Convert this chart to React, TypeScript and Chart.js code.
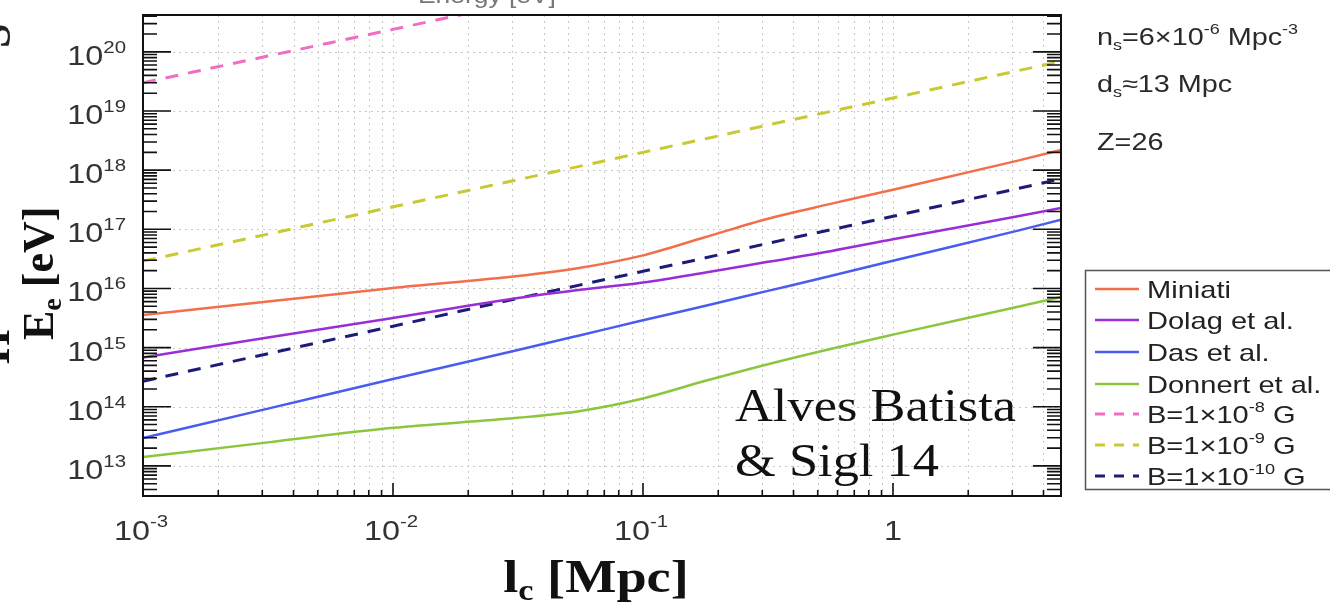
import React, { useEffect, useRef } from "react";
import { Chart, registerables } from "chart.js";
Chart.register(...registerables);

// coherence length l_c [Mpc]
const lcMpc = [0.001, 0.00316, 0.01, 0.0316, 0.0562, 0.1, 0.178, 0.316, 0.562, 1, 3.16, 4.7];

// E_e [eV] for each magnetic field model
const miniati = [3.55e15, 6.0e15, 1.02e16, 1.62e16, 2.24e16, 3.63e16, 7.4e16, 1.51e17, 2.69e17, 4.68e17, 1.45e18, 2.2e18];
const dolag = [6.8e14, 1.48e15, 3.16e15, 6.9e15, 9.5e15, 1.26e16, 1.86e16, 2.82e16, 4.27e16, 6.8e16, 1.66e17, 2.3e17];
const das = [2.95e13, 9.3e13, 2.95e14, 9.1e14, 1.62e15, 2.9e15, 5.1e15, 9.1e15, 1.62e16, 2.95e16, 9.5e16, 1.45e17];
const donnert = [1.41e13, 2.5e13, 4.4e13, 6.5e13, 8.5e13, 1.38e14, 2.75e14, 5.25e14, 9.5e14, 1.66e15, 4.9e15, 7.2e15];
const b1e8 = [3.0e19, 8.5e19, 2.4e20, 6.8e20, 1.14e21, 1.9e21, 3.2e21, 5.4e21, 9.1e21, 1.5e22, 4.3e22, 6.0e22];
const b1e9 = [2.9e16, 8.3e16, 2.4e17, 6.9e17, 1.17e18, 2.0e18, 3.4e18, 5.8e18, 9.8e18, 1.66e19, 4.8e19, 6.9e19];
const b1e10 = [2.7e14, 7.9e14, 2.3e15, 6.8e15, 1.15e16, 1.95e16, 3.3e16, 5.8e16, 9.8e16, 1.66e17, 4.9e17, 7.1e17];

const seriesLabels = ["Miniati", "Dolag et al.", "Das et al.", "Donnert et al.", "B=1×10-8 G", "B=1×10-9 G", "B=1×10-10 G"];
const legendExp = ["", "", "", "", "-8", "-9", "-10"];

// axis ticks
const xMajorTicks = [1e-3, 1e-2, 1e-1, 1];
const xTickBase = ["10", "10", "10", "1"];
const xTickExp = ["-3", "-2", "-1", ""];
const yMajorTicks = [1e13, 1e14, 1e15, 1e16, 1e17, 1e18, 1e19, 1e20];
const yTickExp = ["13", "14", "15", "16", "17", "18", "19", "20"];

const X_MIN = 1e-3;
const X_MAX = 4.7;
const Y_MIN = 3.1e12;
const Y_MAX = 4.2e20;

const SANS = '"Liberation Sans", Arial, Helvetica, sans-serif';
const SERIF = '"Liberation Serif", "Times New Roman", serif';

type Seg = { t: string; font: string; dy: number };

function richWidth(ctx: CanvasRenderingContext2D, segs: Seg[], sx: number) {
  let w = 0;
  for (const s of segs) {
    ctx.font = s.font;
    w += ctx.measureText(s.t).width * sx;
  }
  return w;
}

function drawRich(
  ctx: CanvasRenderingContext2D,
  segs: Seg[],
  x: number,
  y: number,
  color: string,
  sx = 1.15,
  align: "left" | "center" | "right" = "left"
) {
  const w = richWidth(ctx, segs, sx);
  let cx = align === "left" ? x : align === "center" ? x - w / 2 : x - w;
  ctx.save();
  ctx.fillStyle = color;
  ctx.textAlign = "left";
  ctx.textBaseline = "alphabetic";
  for (const s of segs) {
    ctx.font = s.font;
    ctx.save();
    ctx.translate(cx, y + s.dy);
    ctx.scale(sx, 1);
    ctx.fillText(s.t, 0, 0);
    ctx.restore();
    cx += ctx.measureText(s.t).width * sx;
  }
  ctx.restore();
  return w;
}

function minorTicks(min: number, max: number) {
  const out: number[] = [];
  const lo = Math.floor(Math.log10(min));
  const hi = Math.ceil(Math.log10(max));
  for (let e = lo; e <= hi; e++) {
    for (let m = 2; m <= 9; m++) {
      const v = m * Math.pow(10, e);
      if (v > min && v < max) out.push(v);
    }
  }
  return out;
}

const colors = ["#f36f4b", "#9a2ed6", "#4a5cf0", "#8cc63f", "#f26cc4", "#c9c934", "#1c1c78"];
const dashed = [false, false, false, false, true, true, true];

const decorPlugin = {
  id: "decor",
  beforeDatasetsDraw(chart: any) {
    const { ctx, chartArea: a, scales } = chart;
    const xs = scales.x;
    const ys = scales.y;
    ctx.save();
    ctx.strokeStyle = "#c8c8c8";
    ctx.lineWidth = 1;
    ctx.setLineDash([2, 4]);
    const allX = [...xMajorTicks, ...minorTicks(X_MIN, X_MAX)];
    for (const v of allX) {
      const px = Math.round(xs.getPixelForValue(v)) + 0.5;
      ctx.beginPath();
      ctx.moveTo(px, a.top);
      ctx.lineTo(px, a.bottom);
      ctx.stroke();
    }
    for (const v of yMajorTicks) {
      const py = Math.round(ys.getPixelForValue(v)) + 0.5;
      ctx.beginPath();
      ctx.moveTo(a.left, py);
      ctx.lineTo(a.right, py);
      ctx.stroke();
    }
    ctx.restore();
  },
  afterDatasetsDraw(chart: any) {
    const { ctx, chartArea: a, scales } = chart;
    const xs = scales.x;
    const ys = scales.y;
    ctx.save();
    // ticks (inward, ROOT style)
    ctx.strokeStyle = "#111";
    ctx.lineWidth = 1.6;
    ctx.setLineDash([]);
    const yMinor = minorTicks(Y_MIN, Y_MAX);
    const tickY = (v: number, len: number) => {
      const py = ys.getPixelForValue(v);
      ctx.beginPath();
      ctx.moveTo(a.left, py);
      ctx.lineTo(a.left + len, py);
      ctx.moveTo(a.right, py);
      ctx.lineTo(a.right - len, py);
      ctx.stroke();
    };
    for (const v of yMajorTicks) tickY(v, 28);
    for (const v of yMinor) tickY(v, 14);
    const tickX = (v: number, len: number) => {
      const px = xs.getPixelForValue(v);
      ctx.beginPath();
      ctx.moveTo(px, a.bottom);
      ctx.lineTo(px, a.bottom - len);
      ctx.stroke();
    };
    for (const v of xMajorTicks) tickX(v, 13);
    for (const v of minorTicks(X_MIN, X_MAX)) tickX(v, 6);
    // frame
    ctx.lineWidth = 2;
    ctx.strokeStyle = "#111";
    ctx.strokeRect(a.left, a.top, a.right - a.left, a.bottom - a.top);

    // y tick labels
    yMajorTicks.forEach((v, i) => {
      const py = ys.getPixelForValue(v);
      drawRich(
        ctx,
        [
          { t: "10", font: `27px ${SANS}`, dy: 0 },
          { t: yTickExp[i], font: `17px ${SANS}`, dy: -12 },
        ],
        126,
        py + 13,
        "#333",
        1.2,
        "right"
      );
    });
    // x tick labels
    xMajorTicks.forEach((v, i) => {
      const px = xs.getPixelForValue(v);
      const segs: Seg[] = [{ t: xTickBase[i], font: `27px ${SANS}`, dy: 0 }];
      if (xTickExp[i]) segs.push({ t: xTickExp[i], font: `17px ${SANS}`, dy: -13 });
      drawRich(ctx, segs, xTickExp[i] ? px - 2 : px, 540, "#333", 1.2, "center");
    });

    // axis titles
    drawRich(
      ctx,
      [
        { t: "l", font: `bold 46px ${SERIF}`, dy: 0 },
        { t: "c", font: `bold 29px ${SERIF}`, dy: 8 },
        { t: " [Mpc]", font: `bold 46px ${SERIF}`, dy: 0 },
      ],
      596,
      592,
      "#111",
      1.18,
      "center"
    );
    ctx.save();
    ctx.translate(53, 340);
    ctx.rotate(-Math.PI / 2);
    drawRich(
      ctx,
      [
        { t: "E", font: `bold 44px ${SERIF}`, dy: 0 },
        { t: "e", font: `bold 28px ${SERIF}`, dy: 8 },
        { t: " [eV]", font: `bold 44px ${SERIF}`, dy: 0 },
      ],
      0,
      0,
      "#111",
      1.0,
      "left"
    );
    ctx.restore();
    // fragments of a neighbouring panel's label, cut by the left edge
    ctx.save();
    ctx.translate(9, 364);
    ctx.rotate(-Math.PI / 2);
    drawRich(ctx, [{ t: "H", font: `bold 44px ${SERIF}`, dy: 0 }], 0, 0, "#111", 1.0);
    ctx.restore();
    ctx.save();
    ctx.translate(10, 48);
    ctx.rotate(-Math.PI / 2);
    drawRich(ctx, [{ t: "S", font: `bold 44px ${SERIF}`, dy: 0 }], 0, 0, "#222", 1.0);
    ctx.restore();

    // annotations inside plot
    drawRich(ctx, [{ t: "Alves Batista", font: `46px ${SERIF}`, dy: 0 }], 735, 421, "#111", 1.14);
    drawRich(ctx, [{ t: "& Sigl 14", font: `46px ${SERIF}`, dy: 0 }], 735, 476, "#111", 1.14);

    // right-hand info text
    const f = `24px ${SANS}`;
    const fs = `15px ${SANS}`;
    drawRich(
      ctx,
      [
        { t: "n", font: f, dy: 0 },
        { t: "s", font: fs, dy: 5 },
        { t: "=6×10", font: f, dy: 0 },
        { t: "-6", font: fs, dy: -11 },
        { t: " Mpc", font: f, dy: 0 },
        { t: "-3", font: fs, dy: -11 },
      ],
      1097,
      45,
      "#2a2a2a",
      1.2
    );
    drawRich(
      ctx,
      [
        { t: "d", font: f, dy: 0 },
        { t: "s", font: fs, dy: 5 },
        { t: "≈13 Mpc", font: f, dy: 0 },
      ],
      1097,
      92,
      "#2a2a2a",
      1.2
    );
    drawRich(ctx, [{ t: "Z=26", font: f, dy: 0 }], 1097, 150, "#2a2a2a", 1.2);

    // partial title from a panel above (cut off)
    drawRich(ctx, [{ t: "Energy [eV]", font: `22px ${SANS}`, dy: 0 }], 418, 3, "#777", 1.2);

    // legend box
    ctx.lineWidth = 1.5;
    ctx.strokeStyle = "#555";
    ctx.setLineDash([]);
    ctx.strokeRect(1085.5, 270.5, 260, 219);
    const rowY = [289, 320, 352, 384, 414, 445, 476];
    chart.data.datasets.forEach((ds: any, i: number) => {
      const y = rowY[i];
      ctx.save();
      ctx.strokeStyle = ds.borderColor;
      ctx.lineWidth = ds.borderWidth;
      ctx.setLineDash(dashed[i] ? [10, 9] : []);
      ctx.beginPath();
      ctx.moveTo(1095, y);
      ctx.lineTo(1139, y);
      ctx.stroke();
      ctx.restore();
      const lf = `24px ${SANS}`;
      const segs: Seg[] = [];
      if (legendExp[i]) {
        segs.push({ t: "B=1×10", font: lf, dy: 0 });
        segs.push({ t: legendExp[i], font: `15px ${SANS}`, dy: -11 });
        segs.push({ t: " G", font: lf, dy: 0 });
      } else {
        segs.push({ t: ds.label, font: lf, dy: 0 });
      }
      drawRich(ctx, segs, 1147, y + 9, "#222", 1.21);
    });
    ctx.restore();
  },
};

export default function App() {
  const ref = useRef<HTMLCanvasElement | null>(null);
  useEffect(() => {
    if (!ref.current) return;
    const seriesData = [miniati, dolag, das, donnert, b1e8, b1e9, b1e10];
    const chart = new Chart(ref.current, {
      type: "line",
      data: {
        datasets: seriesData.map((arr, i) => ({
          label: seriesLabels[i],
          data: lcMpc.map((x, j) => ({ x, y: arr[j] })),
          borderColor: colors[i],
          backgroundColor: colors[i],
          borderWidth: dashed[i] ? 3 : 2.5,
          borderDash: dashed[i] ? [13, 10] : [],
          pointRadius: 0,
          fill: false,
          cubicInterpolationMode: "monotone" as const,
        })),
      },
      options: {
        animation: false,
        responsive: false,
        maintainAspectRatio: false,
        layout: { padding: { left: 0, top: 15, right: 269, bottom: 0 } },
        plugins: { legend: { display: false }, tooltip: { enabled: false } },
        scales: {
          x: {
            type: "logarithmic",
            min: X_MIN,
            max: X_MAX,
            grid: { display: false },
            ticks: { display: false },
            border: { display: false },
            afterFit: (s: any) => {
              s.height = 110;
            },
          },
          y: {
            type: "logarithmic",
            min: Y_MIN,
            max: Y_MAX,
            grid: { display: false },
            ticks: { display: false },
            border: { display: false },
            afterFit: (s: any) => {
              s.width = 143;
            },
          },
        },
      },
      plugins: [decorPlugin],
    });
    return () => chart.destroy();
  }, []);
  return (
    <div style={{ position: "fixed", left: 0, top: 0, width: 1330, height: 606, background: "#fff" }}>
      <canvas ref={ref} width={1330} height={606} />
    </div>
  );
}
